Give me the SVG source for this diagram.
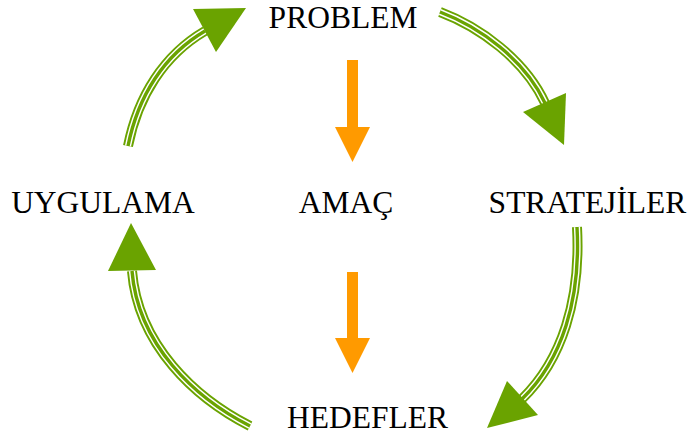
<svg xmlns="http://www.w3.org/2000/svg" width="692" height="445" viewBox="0 0 692 445">
  <style>
    .lbl { font-family: "Liberation Serif", "Times New Roman", serif; font-size: 31.5px; fill: #000; text-anchor: middle; }
    .rail { fill: none; stroke: #6aa300; stroke-width: 10; }
    .gap { fill: none; stroke: #fff; stroke-width: 6.2; }
    .core { fill: none; stroke: #6aa300; stroke-width: 3.4; }
    .head { fill: #6aa300; }
    .down { fill: #ff9a00; }
  </style>
  <rect width="692" height="445" fill="#fff"/>

  <g id="connectors">
    <!-- UYGULAMA -> PROBLEM -->
    <g id="c-uygulama-problem">
      <path class="rail" d="M128,146 C138,96 164,55 205,31"/>
      <path class="gap" d="M128,146 C138,96 164,55 205,31"/>
      <path class="core" d="M128,146 C138,96 164,55 205,31"/>
      <polygon class="head" points="193,9 246,8 216,52"/>
    </g>
    <!-- PROBLEM -> STRATEJİLER -->
    <g id="c-problem-strateji">
      <path class="rail" d="M440,12 C480,27 525,60 545,103"/>
      <path class="gap" d="M440,12 C480,27 525,60 545,103"/>
      <path class="core" d="M440,12 C480,27 525,60 545,103"/>
      <polygon class="head" points="523,112 566,93 564,145"/>
    </g>
    <!-- STRATEJİLER -> HEDEFLER -->
    <g id="c-strateji-hedefler">
      <path class="rail" d="M577,227 C581,300 562,360 522,399"/>
      <path class="gap" d="M577,227 C581,300 562,360 522,399"/>
      <path class="core" d="M577,227 C581,300 562,360 522,399"/>
      <polygon class="head" points="507,381 538,415 487,428"/>
    </g>
    <!-- HEDEFLER -> UYGULAMA -->
    <g id="c-hedefler-uygulama">
      <path class="rail" d="M250,426 C195,398 138,345 132,271"/>
      <path class="gap" d="M250,426 C195,398 138,345 132,271"/>
      <path class="core" d="M250,426 C195,398 138,345 132,271"/>
      <polygon class="head" points="131,223 108,271 156,270"/>
    </g>
    <!-- PROBLEM -> AMAÇ -->
    <path id="c-problem-amac" class="down" d="M347,60 H358 V127 H370 L352.5,162 L335,127 H347 Z"/>
    <!-- AMAÇ -> HEDEFLER -->
    <path id="c-amac-hedefler" class="down" d="M347,272 H358 V338 H370 L352.5,373 L335,338 H347 Z"/>
  </g>

  <g id="problem"><text class="lbl" x="343" y="28">PROBLEM</text></g>
  <g id="uygulama"><text class="lbl" x="103" y="213">UYGULAMA</text></g>
  <g id="amac"><text class="lbl" x="346" y="213">AMAÇ</text></g>
  <g id="stratejiler"><text class="lbl" x="587.5" y="213">STRATEJİLER</text></g>
  <g id="hedefler"><text class="lbl" x="367.5" y="428">HEDEFLER</text></g>
</svg>
